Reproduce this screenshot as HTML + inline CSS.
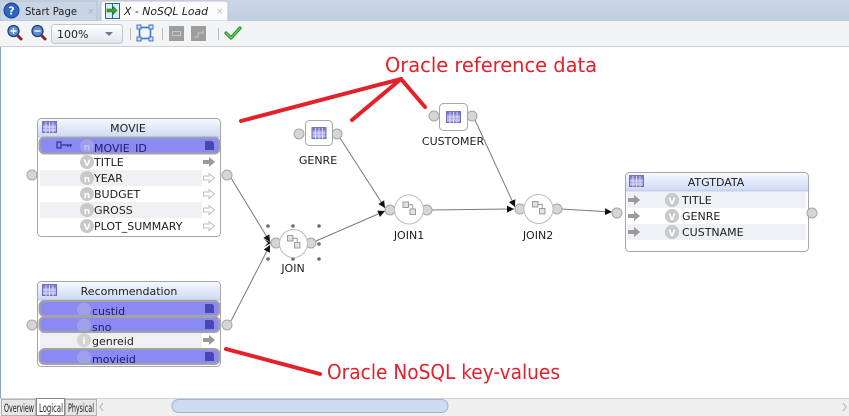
<!DOCTYPE html>
<html><head><meta charset="utf-8"><style>
html,body{margin:0;padding:0;background:#fff;}
svg{display:block;}
text{font-family:"DejaVu Sans","Liberation Sans",sans-serif;}
</style></head><body>
<svg width="849" height="416" viewBox="0 0 849 416" xmlns="http://www.w3.org/2000/svg">
<defs>
<linearGradient id="hdr" x1="0" y1="0" x2="0" y2="1"><stop offset="0" stop-color="#f5f8fe"/><stop offset="1" stop-color="#cddaf5"/></linearGradient>
<linearGradient id="dd" x1="0" y1="0" x2="0" y2="1"><stop offset="0" stop-color="#ffffff"/><stop offset="1" stop-color="#e2e5ea"/></linearGradient>
<linearGradient id="tabbg" x1="0" y1="0" x2="0" y2="1"><stop offset="0" stop-color="#cdd8e8"/><stop offset="1" stop-color="#bfcde1"/></linearGradient>
<clipPath id="c1"><rect x="39" y="138" width="181" height="14"/></clipPath>
<clipPath id="c2"><rect x="39" y="302" width="181" height="13"/></clipPath>
<clipPath id="c3"><rect x="39" y="318" width="181" height="13"/></clipPath>
<clipPath id="c4"><rect x="39" y="350" width="181" height="13"/></clipPath>
<g id="tbl">
<rect x="0.5" y="0.5" width="14" height="11" fill="#a3a3e6" stroke="#6d6db8"/>
<rect x="0.5" y="0.5" width="14" height="3" fill="#7b7bcc"/>
<path d="M4 1V12M7.5 1V12M11 1V12M1 6H14M1 9H14" stroke="#e8e8fa" stroke-width="0.8"/>
</g>
<g id="arrF"><polygon points="0,3 6,3 6,0 12,5 6,10 6,7 0,7" fill="#9a9a9a"/></g>
<g id="arrO"><polygon points="0.5,3 6,3 6,0.5 11.5,5 6,9.5 6,7 0.5,7" fill="#fff" stroke="#bcbcbc"/></g>
<g id="joinic">
<rect x="-6" y="-8" width="5.5" height="5.5" fill="#e2e2e2" stroke="#888" stroke-width="0.8"/>
<rect x="1" y="-1" width="5.5" height="5.5" fill="#e2e2e2" stroke="#888" stroke-width="0.8"/>
<path d="M-0.5 -5.2H3.7V-1" fill="none" stroke="#888" stroke-width="0.8"/>
</g>
<marker id="ah" markerWidth="8" markerHeight="8" refX="7" refY="4" orient="auto" markerUnits="userSpaceOnUse">
<path d="M0,0.5 L7,4 L0,7.5 Z" fill="#111"/>
</marker>
</defs>

<!-- tab bar -->
<rect x="0" y="0" width="849" height="21" fill="url(#tabbg)"/>
<rect x="0" y="1" width="97" height="20" fill="#c9d4e4" stroke="#b4c2d6"/>
<circle cx="11.5" cy="10.5" r="7.5" fill="#2d66bc" stroke="#1b3f82"/>
<text x="11.5" y="14.5" font-size="11" font-weight="bold" fill="#fff" text-anchor="middle">?</text>
<text x="25" y="15" font-size="10.5" fill="#1e1e1e" textLength="52" lengthAdjust="spacingAndGlyphs">Start Page</text>
<text x="87" y="14" font-size="9" fill="#a9b4c4">×</text>
<path d="M101 21V4Q101 1 104 1H225Q228 1 228 4V21Z" fill="#fcfcfd" stroke="#b4c2d6"/>
<rect x="105.5" y="3.5" width="14" height="15" fill="#d8eef0" stroke="#2b6a86"/>
<path d="M112.5 4V18" stroke="#2b6a86"/>
<path d="M107 9H113V6.5L117 10.5L113 14.5V12H107Z" fill="#3aa63a" stroke="#1d6a1d" stroke-width="0.6"/>
<text x="124" y="15" font-size="10.5" font-style="italic" fill="#1e1e1e" textLength="84" lengthAdjust="spacingAndGlyphs">X - NoSQL Load</text>
<text x="216" y="14" font-size="9" fill="#b4bcc8">×</text>

<!-- toolbar -->
<rect x="0" y="21" width="849" height="26" fill="#f3f4f6"/>
<line x1="0" y1="46.5" x2="849" y2="46.5" stroke="#cdd1d7"/>
<line x1="17" y1="35" x2="21" y2="39" stroke="#8a2424" stroke-width="3" stroke-linecap="round"/>
<circle cx="13.5" cy="31" r="5.5" fill="#5b8fd3" stroke="#243f78" stroke-width="1.3"/>
<path d="M10.5 31H16.5M13.5 28V34" stroke="#fff" stroke-width="1.4"/>
<line x1="41" y1="35" x2="45" y2="39" stroke="#8a2424" stroke-width="3" stroke-linecap="round"/>
<circle cx="37.5" cy="31" r="5.5" fill="#5b8fd3" stroke="#243f78" stroke-width="1.3"/>
<path d="M34.5 31H40.5" stroke="#fff" stroke-width="1.4"/>
<rect x="51.5" y="24.5" width="71" height="19" rx="3" fill="url(#dd)" stroke="#c5c9cf"/>
<text x="57" y="38" font-size="11" fill="#222">100%</text>
<polygon points="105,32 113,32 109,36" fill="#6b7b92"/>
<line x1="130.5" y1="28" x2="130.5" y2="40" stroke="#b8b8b8"/>
<rect x="139.5" y="27.5" width="11" height="11" fill="none" stroke="#3a78c8" stroke-width="1.6"/>
<rect x="137" y="25" width="4" height="4" fill="#cfe0f5" stroke="#3a78c8"/>
<rect x="149" y="25" width="4" height="4" fill="#cfe0f5" stroke="#3a78c8"/>
<rect x="137" y="37" width="4" height="4" fill="#cfe0f5" stroke="#3a78c8"/>
<rect x="149" y="37" width="4" height="4" fill="#cfe0f5" stroke="#3a78c8"/>
<line x1="162.5" y1="28" x2="162.5" y2="40" stroke="#b8b8b8"/>
<rect x="169" y="26" width="15" height="15" fill="#9d9d9d"/>
<rect x="172.5" y="31.5" width="8" height="4" fill="none" stroke="#c8c8c8"/>
<rect x="191" y="26" width="15" height="15" fill="#9d9d9d"/>
<path d="M194 37H198V33H203V30" fill="none" stroke="#c8c8c8"/>
<line x1="218.5" y1="28" x2="218.5" y2="40" stroke="#b8b8b8"/>
<path d="M226 33L231 38L240 28" fill="none" stroke="#238f23" stroke-width="3.2" stroke-linecap="round" stroke-linejoin="round"/>
<path d="M226 33L231 38L240 28" fill="none" stroke="#6fd86f" stroke-width="1.2" stroke-linecap="round" stroke-linejoin="round"/>

<!-- canvas -->
<rect x="0" y="47" width="849" height="351" fill="#ffffff"/>
<line x1="0.5" y1="47" x2="0.5" y2="398" stroke="#8aa5ca"/>

<!-- connectors -->
<g stroke="#7a7a7a" stroke-width="1" fill="none">
<line x1="231" y1="178" x2="270" y2="242" marker-end="url(#ah)"/>
<line x1="231" y1="321" x2="270" y2="245" marker-end="url(#ah)"/>
<line x1="316" y1="241" x2="385" y2="211" marker-end="url(#ah)"/>
<line x1="340" y1="138" x2="385" y2="208" marker-end="url(#ah)"/>
<line x1="431" y1="210" x2="514" y2="209" marker-end="url(#ah)"/>
<line x1="475" y1="120" x2="515" y2="207" marker-end="url(#ah)"/>
<line x1="561" y1="209" x2="612" y2="212" marker-end="url(#ah)"/>
</g>

<!-- MOVIE -->
<rect x="37.5" y="118.5" width="183" height="118" rx="4" fill="#fff" stroke="#a6a6a6"/>
<path d="M38 137V123Q38 119 42 119H216Q220 119 220 123V137Z" fill="url(#hdr)"/>
<line x1="38" y1="137" x2="220" y2="137" stroke="#b9c5dd"/>
<use href="#tbl" x="42" y="121"/>
<text x="128" y="132" font-size="11" fill="#1e1e1e" text-anchor="middle">MOVIE</text>
<rect x="40" y="170" width="162" height="16" fill="#eef0f3"/>
<rect x="40" y="202" width="162" height="16" fill="#eef0f3"/>
<rect x="39.5" y="137.5" width="180" height="16" rx="5" fill="#8a8af2" stroke="#a3a3a3" stroke-width="2"/>
<g clip-path="url(#c1)">
<rect x="57" y="142" width="4" height="6" fill="none" stroke="#2e2ea0" stroke-width="1.2"/>
<path d="M61 145H72M68 145V147M70.5 145V147" stroke="#2e2ea0" stroke-width="1.2"/>
<circle cx="87" cy="146" r="7" fill="#a0a0ea"/>
<text x="87" y="150" font-size="9" font-weight="bold" fill="#c4c4f4" text-anchor="middle">n</text>
<text x="94" y="152" font-size="11" fill="#1b1b6e">MOVIE_ID</text>
</g>
<path d="M205 141H212L214 143V150H205Z" fill="#4646b6"/>
<g font-size="11" fill="#1e1e1e">
<circle cx="87" cy="162" r="7" fill="#c9c9c9"/><text x="87" y="166" font-size="9" font-weight="bold" fill="#fff" text-anchor="middle">V</text>
<text x="94" y="166">TITLE</text>
<circle cx="87" cy="178" r="7" fill="#c9c9c9"/><text x="87" y="182" font-size="9" font-weight="bold" fill="#fff" text-anchor="middle">n</text>
<text x="94" y="182">YEAR</text>
<circle cx="87" cy="194" r="7" fill="#c9c9c9"/><text x="87" y="198" font-size="9" font-weight="bold" fill="#fff" text-anchor="middle">n</text>
<text x="94" y="198">BUDGET</text>
<circle cx="87" cy="210" r="7" fill="#c9c9c9"/><text x="87" y="214" font-size="9" font-weight="bold" fill="#fff" text-anchor="middle">n</text>
<text x="94" y="214">GROSS</text>
<circle cx="87" cy="226" r="7" fill="#c9c9c9"/><text x="87" y="230" font-size="9" font-weight="bold" fill="#fff" text-anchor="middle">V</text>
<text x="94" y="230">PLOT_SUMMARY</text>
</g>
<use href="#arrF" x="203" y="157"/>
<use href="#arrO" x="203" y="173"/>
<use href="#arrO" x="203" y="189"/>
<use href="#arrO" x="203" y="205"/>
<use href="#arrO" x="203" y="221"/>
<circle cx="32" cy="175" r="5" fill="#d6d6d6" stroke="#a6a6a6"/>
<circle cx="227" cy="175" r="5" fill="#d6d6d6" stroke="#a6a6a6"/>

<!-- Recommendation -->
<rect x="37.5" y="281.5" width="183" height="85" rx="4" fill="#fff" stroke="#a6a6a6"/>
<path d="M38 300V286Q38 282 42 282H216Q220 282 220 286V300Z" fill="url(#hdr)"/>
<line x1="38" y1="300" x2="220" y2="300" stroke="#b9c5dd"/>
<use href="#tbl" x="42" y="284"/>
<text x="129" y="295" font-size="11" fill="#1e1e1e" text-anchor="middle">Recommendation</text>
<rect x="40" y="332" width="162" height="16" fill="#eef0f3"/>
<rect x="39.5" y="301" width="180" height="15" rx="5" fill="#8a8af2" stroke="#a3a3a3" stroke-width="2"/>
<g clip-path="url(#c2)">
<circle cx="84" cy="309.5" r="7" fill="#a0a0ea"/>
<text x="92" y="315" font-size="11" fill="#1b1b6e">custid</text>
</g>
<path d="M205 304H212L214 306V313H205Z" fill="#4646b6"/>
<rect x="39.5" y="317" width="180" height="15" rx="5" fill="#8a8af2" stroke="#a3a3a3" stroke-width="2"/>
<g clip-path="url(#c3)">
<circle cx="84" cy="325.5" r="7" fill="#a0a0ea"/>
<text x="92" y="331" font-size="11" fill="#1b1b6e">sno</text>
</g>
<path d="M205 320H212L214 322V329H205Z" fill="#4646b6"/>
<circle cx="84" cy="340" r="7" fill="#d4d4d4"/><text x="84" y="344" font-size="9" font-weight="bold" fill="#fff" text-anchor="middle">i</text>
<text x="92" y="345" font-size="11" fill="#1e1e1e">genreid</text>
<use href="#arrF" x="203" y="335"/>
<rect x="39.5" y="349" width="180" height="15" rx="5" fill="#8a8af2" stroke="#a3a3a3" stroke-width="2"/>
<g clip-path="url(#c4)">
<circle cx="84" cy="357.5" r="7" fill="#a0a0ea"/>
<text x="92" y="363" font-size="11" fill="#1b1b6e">movieid</text>
</g>
<path d="M205 352H212L214 354V361H205Z" fill="#4646b6"/>
<circle cx="32" cy="325" r="5" fill="#d6d6d6" stroke="#a6a6a6"/>
<circle cx="227" cy="325" r="5" fill="#d6d6d6" stroke="#a6a6a6"/>

<!-- GENRE -->
<circle cx="299" cy="134" r="5" fill="#d6d6d6" stroke="#a6a6a6"/>
<circle cx="337" cy="134" r="5" fill="#d6d6d6" stroke="#a6a6a6"/>
<rect x="305.5" y="120.5" width="27" height="25" rx="4" fill="#fff" stroke="#a8a8a8"/>
<use href="#tbl" x="311.5" y="127"/>
<text x="318" y="164" font-size="11" fill="#1e1e1e" text-anchor="middle">GENRE</text>

<!-- CUSTOMER -->
<circle cx="434" cy="116" r="5" fill="#d6d6d6" stroke="#a6a6a6"/>
<circle cx="472" cy="116" r="5" fill="#d6d6d6" stroke="#a6a6a6"/>
<rect x="439.5" y="103.5" width="28" height="27" rx="4" fill="#fff" stroke="#a8a8a8"/>
<use href="#tbl" x="446" y="111"/>
<text x="453" y="145" font-size="11" fill="#1e1e1e" text-anchor="middle">CUSTOMER</text>

<!-- JOIN -->
<g fill="#6e6e6e">
<circle cx="268" cy="226" r="1.8"/><circle cx="293" cy="226" r="1.8"/><circle cx="319" cy="226" r="1.8"/>
<circle cx="319" cy="244" r="1.8"/>
<circle cx="268" cy="259" r="1.8"/><circle cx="293" cy="259" r="1.8"/><circle cx="319" cy="259" r="1.8"/>
</g>
<circle cx="276" cy="243" r="5" fill="#d6d6d6" stroke="#a6a6a6"/>
<circle cx="311" cy="243" r="5" fill="#d6d6d6" stroke="#a6a6a6"/>
<circle cx="293.5" cy="243.5" r="14" fill="#fff" stroke="#bdbdbd"/>
<use href="#joinic" x="293.5" y="243.5"/>
<path d="M264 239L271 243L264 247L268 243Z" fill="#111"/>
<text x="293" y="272" font-size="11" fill="#1e1e1e" text-anchor="middle">JOIN</text>

<!-- JOIN1 -->
<circle cx="390" cy="210" r="5" fill="#d6d6d6" stroke="#a6a6a6"/>
<circle cx="427" cy="210" r="5" fill="#d6d6d6" stroke="#a6a6a6"/>
<circle cx="409" cy="209.5" r="14.5" fill="#fff" stroke="#bdbdbd"/>
<use href="#joinic" x="409" y="210"/>
<text x="409" y="239" font-size="11" fill="#1e1e1e" text-anchor="middle">JOIN1</text>

<!-- JOIN2 -->
<circle cx="520" cy="209" r="5" fill="#d6d6d6" stroke="#a6a6a6"/>
<circle cx="557" cy="209" r="5" fill="#d6d6d6" stroke="#a6a6a6"/>
<circle cx="538.5" cy="209" r="14.5" fill="#fff" stroke="#bdbdbd"/>
<use href="#joinic" x="538.5" y="209.5"/>
<text x="538" y="239" font-size="11" fill="#1e1e1e" text-anchor="middle">JOIN2</text>

<!-- ATGTDATA -->
<rect x="625.5" y="172.5" width="183" height="79" rx="4" fill="#fff" stroke="#a6a6a6"/>
<path d="M626 191V177Q626 173 630 173H804Q808 173 808 177V191Z" fill="url(#hdr)"/>
<line x1="626" y1="191" x2="808" y2="191" stroke="#b9c5dd"/>
<use href="#tbl" x="629" y="175"/>
<text x="716" y="186" font-size="11" fill="#1e1e1e" text-anchor="middle">ATGTDATA</text>
<rect x="627" y="192" width="179" height="16" fill="#eef0f3"/>
<rect x="627" y="224" width="179" height="16" fill="#eef0f3"/>
<use href="#arrF" x="628" y="195"/>
<use href="#arrF" x="628" y="211"/>
<use href="#arrF" x="628" y="227"/>
<g font-size="11" fill="#1e1e1e">
<circle cx="672" cy="200" r="7" fill="#c9c9c9"/><text x="672" y="204" font-size="9" font-weight="bold" fill="#fff" text-anchor="middle">V</text>
<text x="682" y="204">TITLE</text>
<circle cx="672" cy="216" r="7" fill="#c9c9c9"/><text x="672" y="220" font-size="9" font-weight="bold" fill="#fff" text-anchor="middle">V</text>
<text x="682" y="220">GENRE</text>
<circle cx="672" cy="232" r="7" fill="#c9c9c9"/><text x="672" y="236" font-size="9" font-weight="bold" fill="#fff" text-anchor="middle">V</text>
<text x="682" y="236">CUSTNAME</text>
</g>
<circle cx="617" cy="213" r="5" fill="#d6d6d6" stroke="#a6a6a6"/>
<circle cx="812" cy="213" r="5" fill="#d6d6d6" stroke="#a6a6a6"/>

<!-- annotations -->
<g stroke="#e4202b" stroke-width="4" stroke-linecap="round" fill="none">
<line x1="241" y1="121" x2="401" y2="79"/>
<line x1="352" y1="120" x2="401" y2="79"/>
<line x1="401" y1="79" x2="425" y2="107"/>
<line x1="226" y1="349" x2="320" y2="374"/>
</g>
<text x="385" y="72" font-family="Liberation Sans, sans-serif" font-size="20" fill="#e4202b" textLength="212" lengthAdjust="spacingAndGlyphs">Oracle reference data</text>
<text x="327" y="379" font-family="Liberation Sans, sans-serif" font-size="20" fill="#e4202b" textLength="233" lengthAdjust="spacingAndGlyphs">Oracle NoSQL key-values</text>

<!-- bottom bar -->
<rect x="0" y="398" width="849" height="18" fill="#efefef"/>
<line x1="0" y1="398.5" x2="849" y2="398.5" stroke="#d3d3d3"/>
<rect x="1.5" y="399.5" width="34" height="16" fill="#e6e6e6" stroke="#b3b3b3"/>
<text x="4" y="412" font-size="11.5" fill="#222" textLength="30" lengthAdjust="spacingAndGlyphs">Overview</text>
<rect x="36.5" y="398.5" width="28" height="17" fill="#fff" stroke="#8a8a8a"/>
<text x="39" y="412" font-size="11.5" fill="#222" textLength="24" lengthAdjust="spacingAndGlyphs">Logical</text>
<rect x="65.5" y="399.5" width="31" height="16" fill="#e6e6e6" stroke="#b3b3b3"/>
<text x="68" y="412" font-size="11.5" fill="#222" textLength="26" lengthAdjust="spacingAndGlyphs">Physical</text>
<path d="M103 403L100 407L103 411" fill="none" stroke="#b0b0b0"/>
<rect x="172" y="399.5" width="276" height="13" rx="6.5" fill="#cddcee" stroke="#9db3cf"/>
<path d="M843 403L846 407L843 411" fill="none" stroke="#b0b0b0"/>
</svg>
</body></html>
